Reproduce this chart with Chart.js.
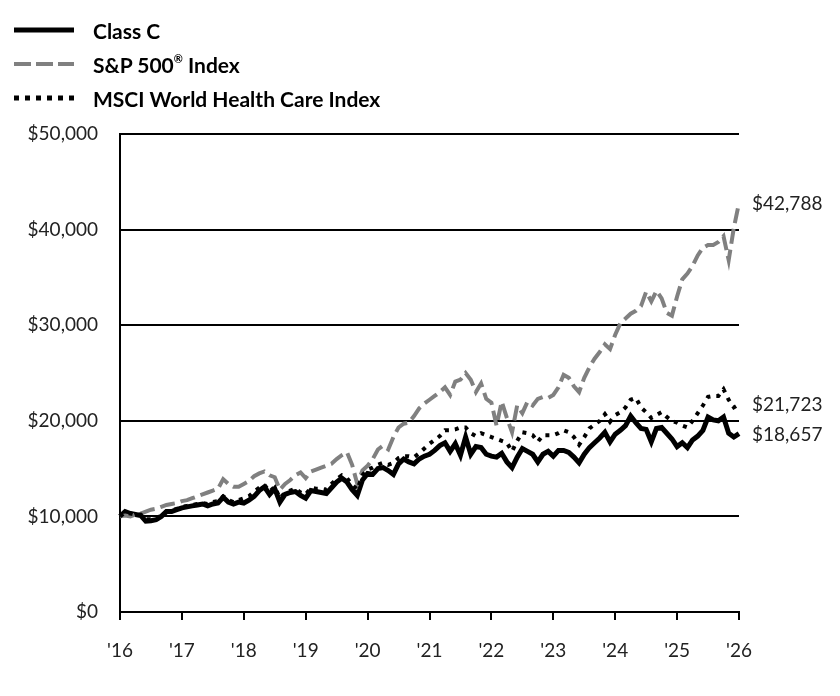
<!DOCTYPE html>
<html>
<head>
<meta charset="utf-8">
<script src="https://cdn.jsdelivr.net/npm/chart.js@4/dist/chart.umd.min.js"></script>
<style>
  html, body { margin: 0; padding: 0; background: #fff; }
  #wrap { position: relative; width: 840px; height: 696px; }
  #legend { position: absolute; left: 14px; top: 13px; font-family: Lato, sans-serif; font-weight: 700; font-size: 21px; color: #000; }
  #legend .row { display: flex; align-items: center; height: 34px; }
  #legend svg { width: 60px; height: 10px; margin-right: 19px; }
  #legend sup { font-size: 11px; vertical-align: 10px; line-height: 0; }
</style>
</head>
<body>
<div id="wrap">
  <canvas id="chart" width="840" height="696"></canvas>
  <div id="legend">
    <div class="row"><svg><line x1="0" y1="5" x2="60" y2="5" stroke="#000" stroke-width="5"/></svg>Class C</div>
    <div class="row"><svg><line x1="0" y1="5" x2="60" y2="5" stroke="#808080" stroke-width="4" stroke-dasharray="17 5"/></svg><span>S&amp;P 500<sup>®</sup> Index</span></div>
    <div class="row"><svg><line x1="0" y1="5" x2="60" y2="5" stroke="#000" stroke-width="5" stroke-dasharray="5 6"/></svg>MSCI World Health Care Index</div>
  </div>
</div>
<script>
// tick labels on the x axis, one per year
const yearLabels = ["'16", "'17", "'18", "'19", "'20", "'21", "'22", "'23", "'24", "'25", "'26"];

// growth of $10,000, month by month
const classC = [
  10000, 10500, 10300, 10200, 10100, 9500, 9550, 9650, 10000, 10500, 10500, 10700,
  10900, 11000, 11100, 11200, 11300, 11100, 11300, 11400, 12000, 11500, 11300, 11500,
  11400, 11700, 12100, 12700, 13100, 12300, 12900, 11500, 12300, 12500, 12600, 12200,
  11900, 12700, 12600, 12500, 12400, 13000, 13600, 14000, 13600, 12800, 12200, 13800,
  14500, 14400, 15000, 15100, 14800, 14400, 15500, 16000, 15700, 15500, 16000, 16300,
  16500, 16900, 17400, 17700, 16800, 17600, 16400, 18300, 16500, 17300, 17200, 16500,
  16300, 16200, 16600, 15700, 15100, 16200, 17100, 16800, 16500, 15700, 16500, 16800,
  16300, 16900, 16900, 16700, 16200, 15600, 16500, 17200, 17700, 18200, 18800, 17800,
  18600, 19000, 19500, 20500, 19800, 19200, 19100, 17800, 19200, 19300, 18700, 18100,
  17300, 17700, 17200, 18000, 18400, 19000, 20400, 20100, 20000, 20400, 18700, 18300,
  18657
];
const sp500 = [
  10000, 10100, 10000, 10200, 10300, 10500, 10700, 10800, 11000, 11200, 11300, 11400,
  11600, 11700, 11900, 12100, 12300, 12500, 12700, 12900, 13900, 13400, 13100, 13100,
  13400, 13700, 14200, 14500, 14700, 14300, 14100, 12800, 13400, 13800, 14300, 14600,
  14000, 14700, 14900, 15100, 15300, 15500, 16000, 16400, 16700, 15400, 13400, 14800,
  15300, 16000, 17000, 17400, 17000, 18300, 19300, 19700, 19800, 20500, 21300, 21800,
  22200, 22600, 23000, 23500, 22700, 24100, 24300, 25000, 24300, 23000, 23900, 22300,
  21900, 19500, 22000, 20300, 18800, 21600, 20800, 22000, 21600, 22300, 22500, 22400,
  22700, 23500, 24800, 24500, 23600, 23000, 24500, 25600, 26500, 27200, 28000, 27500,
  29000, 30200, 30700, 31200, 31500, 32000, 33500, 32500, 33600, 32800, 31300, 31000,
  33000, 34800, 35400, 36200, 37300, 38100, 38400, 38400, 38700, 39300, 36800, 40200,
  42788
];
const msciHealth = [
  10000, 10400, 10300, 10200, 10200, 9700, 9700, 9800, 10100, 10500, 10600, 10800,
  11000, 11100, 11200, 11300, 11400, 11300, 11500, 11600, 12100, 11700, 11500, 11700,
  11900, 12100, 12600, 13000, 13300, 12600, 13100, 11900, 12500, 12700, 12900, 12500,
  12300, 13000, 12900, 12900, 12800, 13400, 13900, 14300, 14000, 13300, 12800, 14300,
  14900, 15100, 15400, 15600, 15400, 15600, 16100, 16300, 16300, 16200, 16600, 17100,
  17600, 18000, 18400, 19000, 19000, 19100, 19300, 19300, 18700, 18400, 18700, 18500,
  18300, 18100, 17900, 17700, 16800, 17900, 18800, 18700, 18500, 17800, 18500, 18500,
  18500, 18700, 19000, 18800, 18300, 17500, 18300, 19200, 19600, 20000, 20700, 19900,
  20600, 20900, 21400, 22200, 22400, 21400, 20900, 20300, 20600, 20900, 20400, 20000,
  19800, 19500, 19300, 20000, 20800, 21600, 22500, 22600, 22600, 23300, 22200, 21400,
  21723
];

const TEXT = '#222';
const FONT = 'Lato, sans-serif';

// one category per month
const months = classC.map((_, i) => i);

const endLabels = {
  id: 'endLabels',
  afterDatasetsDraw(chart) {
    const ctx = chart.ctx;
    ctx.save();
    ctx.font = '19px ' + FONT;
    ctx.fillStyle = TEXT;
    ctx.textAlign = 'left';
    ctx.textBaseline = 'middle';
    chart.data.datasets.forEach((ds, i) => {
      const pts = chart.getDatasetMeta(i).data;
      const last = pts[pts.length - 1];
      const v = ds.data[ds.data.length - 1];
      ctx.fillText('$' + v.toLocaleString('en-US'), chart.chartArea.right + 13, last.y + 1);
    });
    ctx.restore();
  }
};

new Chart(document.getElementById('chart'), {
  type: 'line',
  data: {
    labels: months,
    datasets: [
      { label: 'Class C', data: classC, borderColor: '#000', borderWidth: 5, order: 3 },
      { label: 'S&P 500® Index', data: sp500, borderColor: '#808080', borderWidth: 4, borderDash: [15, 6], order: 2 },
      { label: 'MSCI World Health Care Index', data: msciHealth, borderColor: '#000', borderWidth: 4, borderDash: [4, 6], order: 1 }
    ]
  },
  options: {
    responsive: false,
    animation: false,
    layout: { padding: { top: 134, right: 101, left: 0, bottom: 0 } },
    elements: {
      point: { radius: 0 },
      line: { tension: 0, borderCapStyle: 'butt', borderJoinStyle: 'miter', fill: false }
    },
    plugins: { legend: { display: false }, tooltip: { enabled: false } },
    scales: {
      x: {
        type: 'category',
        offset: false,
        afterFit(s) { s.height = 84; },
        grid: {
          drawOnChartArea: false, drawTicks: true, tickLength: 8, lineWidth: 2,
          // only the yearly ticks are shown
          color: c => (c.index % 12 === 0 ? '#000' : 'rgba(0,0,0,0)')
        },
        border: { display: true, color: '#000', width: 2 },
        ticks: {
          autoSkip: false, maxRotation: 0, padding: 19,
          color: TEXT, font: { family: FONT, size: 19 },
          callback: (v, i) => (i % 12 === 0 ? yearLabels[i / 12] : '')
        }
      },
      y: {
        min: 0, max: 50000,
        afterFit(s) { s.width = 120; },
        grid: { color: '#000', lineWidth: 2, drawTicks: false },
        border: { display: true, color: '#000', width: 2 },
        ticks: {
          stepSize: 10000, padding: 22,
          color: TEXT, font: { family: FONT, size: 19 },
          callback: v => '$' + v.toLocaleString('en-US')
        }
      }
    }
  },
  plugins: [endLabels]
});
</script>
</body>
</html>
